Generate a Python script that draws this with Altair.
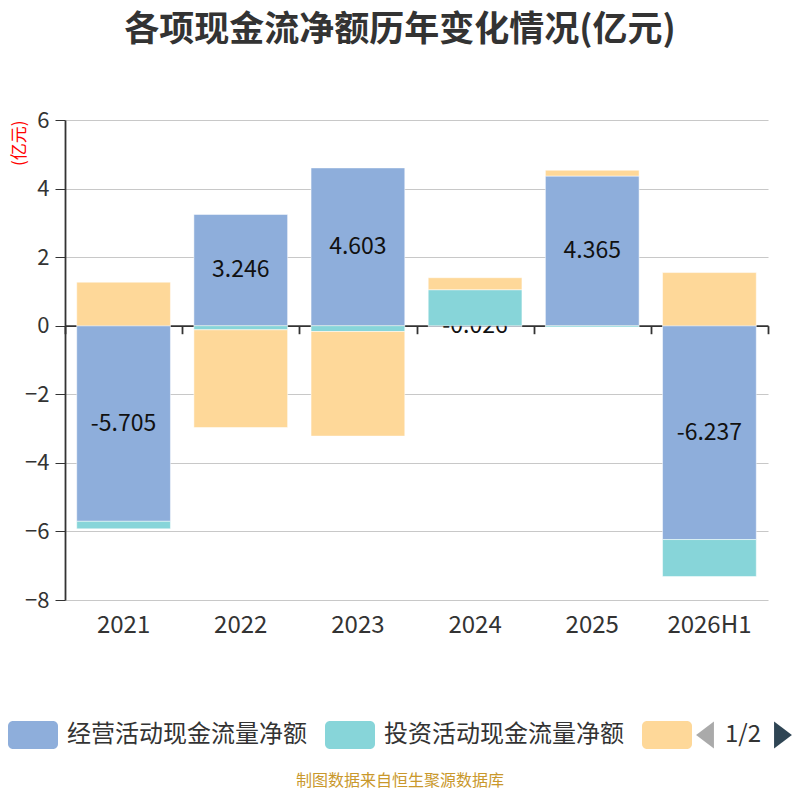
import altair as alt
import pandas as pd

years = ["2021", "2022", "2023", "2024", "2025", "2026H1"]
operating = [-5.705, 3.246, 4.603, -0.026, 4.365, -6.237]
investing = [-0.22, -0.12, -0.17, 1.05, -0.04, -1.08]
financing = [1.27, -2.85, -3.05, 0.35, 0.17, 1.55]
series = ["经营活动现金流量净额", "投资活动现金流量净额", "筹资活动现金流量净额"]
colors = ["#8eaedb", "#87d5d9", "#fed899"]
y_ticks = [-8, -6, -4, -2, 0, 2, 4, 6]
title_text = "各项现金流净额历年变化情况(亿元)"
source_text = "制图数据来自恒生聚源数据库"

# stack positives and negatives separately (same-sign stacking)
rows = []
for i, yr in enumerate(years):
    pos, neg = 0.0, 0.0
    for s, vals in zip(series, [operating, investing, financing]):
        v = vals[i]
        if v >= 0:
            y0, y1 = pos, pos + v
            pos = y1
        else:
            y0, y1 = neg, neg + v
            neg = y1
        rows.append({"year": yr, "series": s, "value": v, "y0": y0, "y1": y1,
                     "mid": (y0 + y1) / 2, "label": f"{v:.3f}"})
df = pd.DataFrame(rows)
df_op = df[df.series == series[0]]
df_rest = df[df.series != series[0]]

W, H = 703, 480
ymin, ymax = -8, 6
zero_offset = -H * (0 - ymin) / (ymax - ymin)

FONT = "Noto Sans CJK SC"

xscale = alt.Scale(type="band", domain=years, paddingInner=0, paddingOuter=0)
yscale = alt.Scale(domain=[ymin, ymax], nice=False, zero=False)

legend_path = ("M-0.8,-0.56 H0.8 A0.2,0.2 0 0 1 1,-0.36 V0.36 A0.2,0.2 0 0 1 0.8,0.56 "
               "H-0.8 A0.2,0.2 0 0 1 -1,0.36 V-0.36 A0.2,0.2 0 0 1 -0.8,-0.56 Z")

color_enc = alt.Color(
    "series:N",
    scale=alt.Scale(domain=series, range=colors),
    legend=alt.Legend(
        orient="none", legendX=-57, legendY=590, direction="horizontal",
        title=None, symbolType=legend_path, symbolSize=2500, symbolStrokeWidth=0,
        symbolOpacity=1, labelFontSize=24, labelColor="#333", labelFont=FONT,
        labelOffset=9, columnPadding=18, padding=0, labelLimit=400,
        labelExpr="datum.label == '筹资活动现金流量净额' ? '' : datum.label",
    ),
)

y_axis = alt.Axis(
    values=y_ticks, labelFontSize=22, labelColor="#333", labelPadding=6,
    tickSize=10, tickColor="#333", domainColor="#333", domainWidth=1.8,
    gridColor="#c8c8c8", gridWidth=1.2,
    title="(亿元)", titleColor="red", titleFontSize=17, titleFontWeight="normal",
    titleAngle=-90, titleAlign="right", titleBaseline="middle", titleX=-46, titleY=0,
)

x_label_axis = alt.Axis(
    orient="bottom", title=None, domain=False, ticks=False, grid=False, labelFontSize=24,
    labelColor="#333", labelPadding=13, labelAngle=0,
)

bars_op = alt.Chart(df_op).mark_bar(
    width=alt.RelativeBandSize(0.8), stroke="#ffffff", strokeOpacity=0.5, strokeWidth=1
).encode(
    x=alt.X("year:N", scale=xscale, sort=years, axis=x_label_axis),
    y=alt.Y("y0:Q", scale=yscale, axis=y_axis),
    y2="y1:Q",
    color=color_enc,
)

labels = alt.Chart(df_op).mark_text(fontSize=23, color="#111", font=FONT, baseline="middle").encode(
    x=alt.X("year:N", scale=xscale, sort=years),
    y=alt.Y("mid:Q", scale=yscale),
    text="label:N",
)

bars_rest = alt.Chart(df_rest).mark_bar(
    width=alt.RelativeBandSize(0.8), stroke="#ffffff", strokeOpacity=0.5, strokeWidth=1
).encode(
    x=alt.X("year:N", scale=xscale, sort=years),
    y=alt.Y("y0:Q", scale=yscale),
    y2="y1:Q",
    color=color_enc,
)

main = alt.layer(bars_op, labels, bars_rest)

zero_axis_layer = alt.Chart(df_op).mark_point(opacity=0).encode(
    x=alt.X("year:N", scale=xscale, sort=years,
            axis=alt.Axis(orient="bottom", offset=zero_offset, labels=False, title=None,
                          grid=False, tickBand="extent", domainColor="#333",
                          domainWidth=1.8, tickColor="#333", tickSize=8, tickWidth=1.8)),
    y=alt.Y("y0:Q", scale=yscale),
)

plot = alt.layer(zero_axis_layer, main).resolve_scale(x="independent").resolve_axis(x="independent")

title_df = pd.DataFrame({"t": [title_text]})
title_mark = alt.Chart(title_df).mark_text(
    fontSize=35, fontWeight="bold", color="#333", font=FONT, baseline="middle", align="center"
).encode(x=alt.value(335), y=alt.value(-90), text="t:N")

source_df = pd.DataFrame({"t": [source_text]})
source_mark = alt.Chart(source_df).mark_text(
    fontSize=16, color="#c9982c", font=FONT, baseline="middle", align="center"
).encode(x=alt.value(335), y=alt.value(661), text="t:N")

pager_df = pd.DataFrame({"t": ["1/2"]})
pager_text = alt.Chart(pager_df).mark_text(
    fontSize=24, color="#333", font=FONT, baseline="middle", align="center"
).encode(x=alt.value(678), y=alt.value(615), text="t:N")

tri_left = "M0.66,-1 L-0.66,0 L0.66,1 Z"
tri_right = "M-0.66,-1 L0.66,0 L-0.66,1 Z"
arrow_l = alt.Chart(pager_df).mark_point(
    shape=tri_left, size=729, filled=True, color="#aaaaaa", opacity=1, strokeWidth=0
).encode(x=alt.value(640), y=alt.value(615))
arrow_r = alt.Chart(pager_df).mark_point(
    shape=tri_right, size=729, filled=True, color="#2f4554", opacity=1, strokeWidth=0
).encode(x=alt.value(718), y=alt.value(615))

chart = alt.layer(plot, title_mark, source_mark, pager_text, arrow_l, arrow_r).properties(
    width=W, height=H,
    autosize=alt.AutoSizeParams(type="none"),
    padding={"left": 57, "top": 112, "right": 24, "bottom": 192},
).configure(font=FONT).configure_view(stroke=None)

chart.save("out.html", embed_options={"renderer": "svg", "actions": False})
